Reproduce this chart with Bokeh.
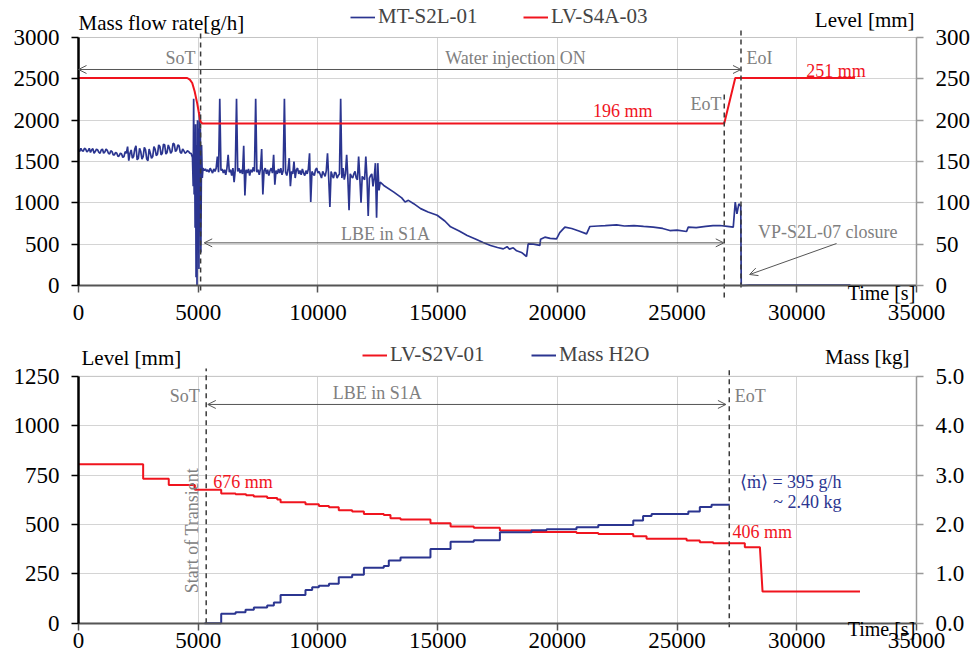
import math
from bokeh.plotting import figure
from bokeh.models import (Range1d, LinearAxis, FixedTicker, Label, Arrow, OpenHead,
                          Legend, LegendItem, PrintfTickFormatter, BoxAnnotation)
from bokeh.layouts import column
from bokeh.embed import file_html
from bokeh.resources import INLINE

FONT = "Liberation Serif"
BLUE = "#2b3590"
RED = "#f0141e"
GRAY_TXT = "#808080"
ARROW_C = "#555555"
DASH_C = "#3a3a3a"

# ---------------- data: top chart ----------------
x_ticks = [0, 5000, 10000, 15000, 20000, 25000, 30000, 35000]
flow_ticks = [0, 500, 1000, 1500, 2000, 2500, 3000]
level_top_ticks = [0, 50, 100, 150, 200, 250, 300]

# MT-S2L-01 mass flow rate [g/h] as (time [s], value) pairs
flow_before = [(0, 1640), (50, 1620), (100, 1660), (150, 1630), (200, 1625), (250, 1660),
               (300, 1650), (350, 1615), (400, 1630), (450, 1660), (500, 1610), (550, 1640),
               (600, 1655), (650, 1600), (700, 1620), (750, 1650), (800, 1640), (850, 1610),
               (900, 1600), (950, 1640), (1000, 1650), (1050, 1600), (1100, 1615), (1150, 1650),
               (1200, 1635), (1250, 1600), (1300, 1590), (1350, 1630), (1400, 1620), (1450, 1580),
               (1500, 1580), (1550, 1610), (1600, 1600), (1650, 1560), (1700, 1570), (1750, 1600),
               (1800, 1590), (1850, 1550), (1900, 1560), (1950, 1620), (2000, 1600), (2050, 1680),
               (2100, 1510), (2150, 1600), (2200, 1640), (2250, 1540), (2300, 1560), (2350, 1650),
               (2400, 1690), (2450, 1520), (2500, 1540), (2550, 1660), (2600, 1620), (2650, 1530),
               (2700, 1560), (2750, 1670), (2800, 1640), (2850, 1530), (2900, 1510), (2950, 1650),
               (3000, 1600), (3050, 1540), (3100, 1560), (3150, 1680), (3200, 1650), (3250, 1570),
               (3300, 1590), (3350, 1700), (3400, 1680), (3450, 1580), (3500, 1600), (3550, 1710),
               (3600, 1700), (3650, 1590), (3700, 1610), (3750, 1700), (3800, 1660), (3850, 1600),
               (3900, 1620), (3950, 1720), (4000, 1710), (4050, 1620), (4100, 1640), (4150, 1700),
               (4200, 1690), (4250, 1610), (4300, 1600), (4350, 1650), (4400, 1630), (4450, 1600),
               (4500, 1610), (4550, 1630), (4600, 1620), (4650, 1600), (4700, 1600)]
flow_start = [(4760, 1550), (4790, 1200), (4810, 2260), (4830, 1100), (4850, 1800), (4870, 700),
              (4890, 1950), (4910, 100), (4930, 1700), (4950, 0), (4970, 2000), (4990, 600),
              (5010, 1900), (5030, 200), (5050, 2100), (5070, 800), (5090, 1900), (5110, 400),
              (5140, 1700), (5170, 1300)]
flow_transient = [(5200, 1420), (5250, 1390), (5300, 1410), (5350, 1380), (5400, 1400), (5450, 1370),
                  (5500, 1420), (5550, 1390), (5600, 1360), (5650, 1410), (5700, 1380), (5750, 1420),
                  (5800, 1560), (5850, 1370), (5900, 2260), (5950, 1390), (6000, 1410), (6050, 1360),
                  (6100, 1400), (6150, 1340), (6200, 1420), (6250, 1580), (6300, 1370), (6350, 1400),
                  (6400, 1330), (6450, 1420), (6500, 1250), (6550, 1410), (6600, 2260), (6650, 1380),
                  (6700, 1420), (6750, 1360), (6800, 1400), (6850, 1350), (6900, 1690), (6950, 1090),
                  (7000, 1400), (7050, 1360), (7100, 1410), (7150, 1330), (7200, 1400), (7250, 1370),
                  (7300, 1430), (7350, 1380), (7400, 2260), (7450, 1370), (7500, 1400), (7550, 1340),
                  (7600, 1410), (7650, 1650), (7700, 1100), (7750, 1390), (7800, 1420), (7850, 1350),
                  (7900, 1400), (7950, 1330), (8000, 1390), (8050, 1420), (8100, 1360), (8150, 1580),
                  (8200, 1220), (8250, 1390), (8300, 1350), (8350, 1410), (8400, 1360), (8450, 1420),
                  (8500, 1340), (8550, 1390), (8600, 2260), (8650, 1370), (8700, 1330), (8750, 1400),
                  (8800, 1540), (8850, 1200), (8900, 1380), (8950, 1350), (9000, 1500), (9050, 1300),
                  (9100, 1400), (9150, 1420), (9200, 1350), (9250, 1390), (9300, 1340), (9350, 1410),
                  (9400, 1360), (9450, 1330), (9500, 1390), (9550, 1350), (9600, 1410), (9650, 1600),
                  (9700, 1010), (9750, 1380), (9800, 1350), (9850, 1330), (9900, 1400), (9950, 1420),
                  (10000, 1360), (10050, 1380), (10100, 1340), (10150, 1300), (10200, 1380), (10250, 1350),
                  (10300, 1320), (10350, 1390), (10400, 1600), (10450, 1300), (10500, 950), (10550, 1380),
                  (10600, 1330), (10650, 1300), (10700, 1370), (10750, 1360), (10800, 1300), (10850, 1330),
                  (10900, 1350), (10950, 2260), (11000, 1300), (11050, 1420), (11100, 1280), (11150, 1350),
                  (11200, 1580), (11250, 1300), (11300, 910), (11350, 1350), (11400, 1320), (11450, 1300),
                  (11500, 1350), (11550, 1380), (11600, 1300), (11650, 1280), (11700, 1560), (11750, 1300),
                  (11800, 1000), (11850, 1320), (11900, 1300), (11950, 1280), (12000, 1560), (12050, 1300),
                  (12100, 840), (12150, 1300), (12200, 1330), (12250, 1350), (12300, 1200), (12350, 1300),
                  (12400, 1480), (12450, 820), (12500, 1480), (12550, 1150), (12600, 1250)]
flow_after = [(12750, 1210), (13170, 1130), (13500, 1060), (13640, 1010), (13780, 1030), (14000, 990),
              (14290, 930), (14600, 890), (14980, 850), (15300, 780), (15540, 710), (15900, 660),
              (16235, 605), (16600, 560), (16900, 520), (17210, 484), (17500, 460), (17740, 443),
              (17900, 470), (18000, 440), (18158, 456), (18300, 420), (18500, 400), (18713, 351),
              (18780, 504), (19000, 500), (19270, 485), (19300, 560), (19478, 585), (19700, 570),
              (19966, 565), (20100, 640), (20314, 706), (20600, 690), (20900, 660), (21220, 625),
              (21360, 714), (21700, 720), (22000, 725), (22473, 734), (22800, 720), (23200, 725),
              (23600, 715), (24006, 706), (24400, 690), (24700, 665), (25000, 670), (25397, 653),
              (25467, 706), (25800, 700), (26200, 715), (26500, 725), (26790, 726), (27100, 715),
              (27347, 706), (27430, 1008), (27500, 867), (27580, 987), (27660, 960), (27680, 0),
              (28000, 5), (32240, 5)]

# LV-S4A-03 level [mm]
t_lv_top = [0, 4540, 4650, 4750, 4850, 4960, 5050, 5100, 5170, 26970, 27430, 32430]
lv_top = [251, 251, 249, 245, 235, 220, 205, 198, 196, 196, 251, 251]

# events top [s]
sot_top, eot_top, eoi_top = 5100, 26970, 27670

# ---------------- data: bottom chart ----------------
level_bot_ticks = [0, 250, 500, 750, 1000, 1250]
mass_ticks = [0, 1, 2, 3, 4, 5]

# LV-S2V-01 level [mm], step changes
t_lvl = [0, 2700, 3770, 4860, 5960, 6560, 7000, 7320, 7880, 8300, 8440, 9480, 10040, 10460,
         10870, 11430, 11920, 12750, 13030, 13450, 14700, 15540, 16510, 17600, 18920,
         20800, 21710, 23170, 23725, 25400, 25950, 26510, 27830]
lvl = [805, 731, 700, 676, 657, 652, 647, 641, 633, 626, 612, 602, 593, 587,
       571, 565, 553, 547, 531, 525, 506, 489, 483, 469, 461,
       457, 452, 440, 427, 418, 410, 405, 385]
t_lvl_drain = [28460, 28570, 32640]
lvl_drain = [385, 160, 160]

# Mass H2O [kg], step changes
t_mass = [5263, 5960, 6560, 6976, 7324, 7880, 8160, 8440, 9480, 9760, 10040, 10460, 10870,
          11430, 11920, 12750, 12960, 13450, 14700, 15540, 16510, 17600, 18920, 19550,
          20800, 21710, 23170, 23580, 23935, 25470, 25950, 26440, 27200]
mass = [0, 0.19, 0.22, 0.27, 0.32, 0.36, 0.42, 0.57, 0.67, 0.73, 0.76, 0.80, 0.93,
        0.98, 1.12, 1.16, 1.27, 1.33, 1.50, 1.65, 1.68, 1.84, 1.88, 1.90,
        1.94, 1.99, 2.08, 2.17, 2.21, 2.26, 2.35, 2.40, 2.40]

sot_bot, eot_bot = 5333, 27180

X0, X1 = 0, 35000
# the frame fills the whole canvas: 0 s at 78 px, 35000 s at 916 px (976 px wide)
X_RANGE = (-3257.8, 37506.0)


def steps(ts, vs):
    xs, ys = [], []
    for i, (t, v) in enumerate(zip(ts, vs)):
        if i > 0:
            xs.append(t)
            ys.append(vs[i - 1])
        xs.append(t)
        ys.append(v)
    return xs, ys


def style_axis(ax, line_color, line_width, standoff):
    ax.axis_line_color = line_color
    ax.axis_line_width = line_width
    ax.major_tick_line_color = line_color
    ax.major_tick_line_width = 1.5
    ax.major_tick_out = 7
    ax.major_tick_in = 0
    ax.minor_tick_line_color = None
    ax.major_label_standoff = standoff
    ax.major_label_text_font = FONT
    ax.major_label_text_font_size = "23px"
    ax.major_label_text_color = "black"


def base_style(p, left_ticks, top_val, x_standoff):
    p.background_fill_color = "white"
    p.border_fill_color = "white"
    p.outline_line_color = None
    p.xgrid.ticker = FixedTicker(ticks=x_ticks)
    p.xgrid.cross_bounds = (0, top_val)
    p.ygrid.ticker = FixedTicker(ticks=left_ticks)
    p.ygrid.bounds = (0, top_val)
    p.ygrid.cross_bounds = (X0, X1)
    for g in (p.xgrid, p.ygrid):
        g.grid_line_color = "#d4d4d4"
        g.grid_line_width = 1
    p.add_layout(BoxAnnotation(left=X0, right=X1, bottom=0, top=top_val, fill_alpha=0,
                               line_color="#a0a0a0", line_width=1, level="underlay"))
    ax = p.yaxis[0]
    ax.ticker = FixedTicker(ticks=left_ticks)
    ax.bounds = (0, top_val)
    ax.fixed_location = X0
    style_axis(ax, "black", 2.5, 12)
    bx = p.xaxis[0]
    bx.ticker = FixedTicker(ticks=x_ticks)
    bx.bounds = (X0, X1)
    bx.fixed_location = 0
    style_axis(bx, "#555555", 2, x_standoff)


def right_axis(p, rng_name, ticks, top_val, fmt=None):
    ra = LinearAxis(y_range_name=rng_name, ticker=FixedTicker(ticks=ticks),
                    bounds=(0, top_val), fixed_location=X1)
    if fmt is not None:
        ra.formatter = fmt
    style_axis(ra, "#999999", 1.5, 12)
    p.add_layout(ra, "right")


def label(p, x, y, text, size="18px", color=GRAY_TXT, align="center", **kw):
    p.add_layout(Label(x=x, y=y, text=text, text_font=FONT, text_font_size=size,
                       text_color=color, text_align=align, text_baseline="middle", **kw))


def arrow(p, x0, y0, x1, y1, both=True):
    kw = dict(x_start=x0, y_start=y0, x_end=x1, y_end=y1, line_color=ARROW_C,
              line_width=1, end=OpenHead(size=8, line_color=ARROW_C, line_width=1))
    kw["start"] = OpenHead(size=8, line_color=ARROW_C, line_width=1) if both else None
    p.add_layout(Arrow(**kw))


def legend(p, renderer, text, loc):
    lg = Legend(items=[LegendItem(label=text, renderers=[renderer])], location=loc,
                orientation="horizontal", padding=0, margin=0, border_line_alpha=0,
                background_fill_alpha=0, label_text_font=FONT, label_text_font_size="21px",
                glyph_width=25, glyph_height=20, label_standoff=3, label_height=20)
    p.add_layout(lg)


# ================= TOP FIGURE =================
# 3000 g/h at 37 px, 0 at 285 px from top (330 px tall)
p1 = figure(width=976, height=330, output_backend="svg", toolbar_location=None,
            x_range=Range1d(*X_RANGE), y_range=Range1d(-544.35, 3447.58),
            min_border_left=0, min_border_right=0, min_border_top=0, min_border_bottom=0)
p1.extra_y_ranges = {"lvl": Range1d(-54.435, 344.758)}
base_style(p1, flow_ticks, 3000, 12)
right_axis(p1, "lvl", level_top_ticks, 300)

flow_pts = flow_before + flow_start + flow_transient + flow_after
r_flow = p1.line([t for t, _ in flow_pts], [v for _, v in flow_pts], line_color=BLUE, line_width=1.7)
r_lv = p1.line(t_lv_top, lv_top, line_color=RED, line_width=2, y_range_name="lvl")

p1.segment(x0=[sot_top, eot_top, eoi_top], y0=[-60, -145, -24],
           x1=[sot_top, eot_top, eoi_top], y1=[3048, 2360, 3109],
           line_color=DASH_C, line_width=1.5, line_dash="5 4")

legend(p1, r_flow, "MT-S2L-01", (350, 301))
legend(p1, r_lv, "LV-S4A-03", (523, 301))

label(p1, 0, 3181, "Mass flow rate[g/h]", size="21px", color="black", align="left")
label(p1, 34920, 3206, "Level [mm]", size="21px", color="black", align="right")
label(p1, 4887, 2758, "SoT", align="right")
label(p1, 18254, 2746, "Water injection ON")
label(p1, 27900, 2758, "EoI", align="left")
label(p1, 31640, 2600, "251 mm", color=RED)
label(p1, 22730, 2105, "196 mm", color=RED)
label(p1, 26860, 2190, "EoT", align="right")
label(p1, 12820, 629, "LBE in S1A")
label(p1, 31290, 653, "VP-S2L-07 closure")
label(p1, 34950, -85, "Time [s]", size="20px", color="black", align="right")

arrow(p1, 0, 2613, eoi_top, 2613)
arrow(p1, 5250, 516, 26950, 516)
arrow(p1, 31660, 508, 28030, 133, both=False)

# ================= BOTTOM FIGURE =================
# 1250 mm at 45.7 px, 0 at 292.7 px from the figure top (329 px tall)
p2 = figure(width=976, height=329, output_backend="svg", toolbar_location=None,
            x_range=Range1d(*X_RANGE), y_range=Range1d(-183.7, 1481.3),
            min_border_left=0, min_border_right=0, min_border_top=0, min_border_bottom=0)
p2.extra_y_ranges = {"mass": Range1d(-0.7348, 5.9251)}
base_style(p2, level_bot_ticks, 1250, 3)
right_axis(p2, "mass", mass_ticks, 5, PrintfTickFormatter(format="%.1f"))

lx, ly = steps(t_lvl, lvl)
lx += t_lvl_drain
ly += lvl_drain
r_lvl = p2.line(lx, ly, line_color=RED, line_width=2)
mx, my = steps(t_mass, mass)
r_mass = p2.line(mx, my, line_color=BLUE, line_width=2, y_range_name="mass")

p2.segment(x0=[sot_bot, eot_bot], y0=[0, -20], x1=[sot_bot, eot_bot], y1=[1289, 1289],
           line_color=DASH_C, line_width=1.5, line_dash="5 4")

legend(p2, r_lvl, "LV-S2V-01", (362, 292))
legend(p2, r_mass, "Mass H2O", (531, 292))

label(p2, 125, 1340, "Level [mm]", size="21px", color="black", align="left")
label(p2, 34710, 1345, "Mass [kg]", size="21px", color="black", align="right")
label(p2, 5067, 1149, "SoT", align="right")
label(p2, 12480, 1164, "LBE in S1A")
label(p2, 27410, 1149, "EoT", align="left")
label(p2, 4750, 469, "Start of Transient", angle=math.pi / 2)
label(p2, 5630, 714, "676 mm", color=RED, align="left")
label(p2, 27320, 460, "406 mm", color=RED, align="left")
label(p2, 31870, 714, "\u27e8\u1e41\u27e9 = 395 g/h", color=BLUE, align="right")
label(p2, 31870, 612, "~ 2.40 kg", color=BLUE, align="right")
label(p2, 34950, -27, "Time [s]", size="20px", color="black", align="right")

arrow(p2, 5400, 1107, 27040, 1107)

layout = column(p1, p2, spacing=0)
open("out.html", "w").write(file_html(layout, INLINE))
